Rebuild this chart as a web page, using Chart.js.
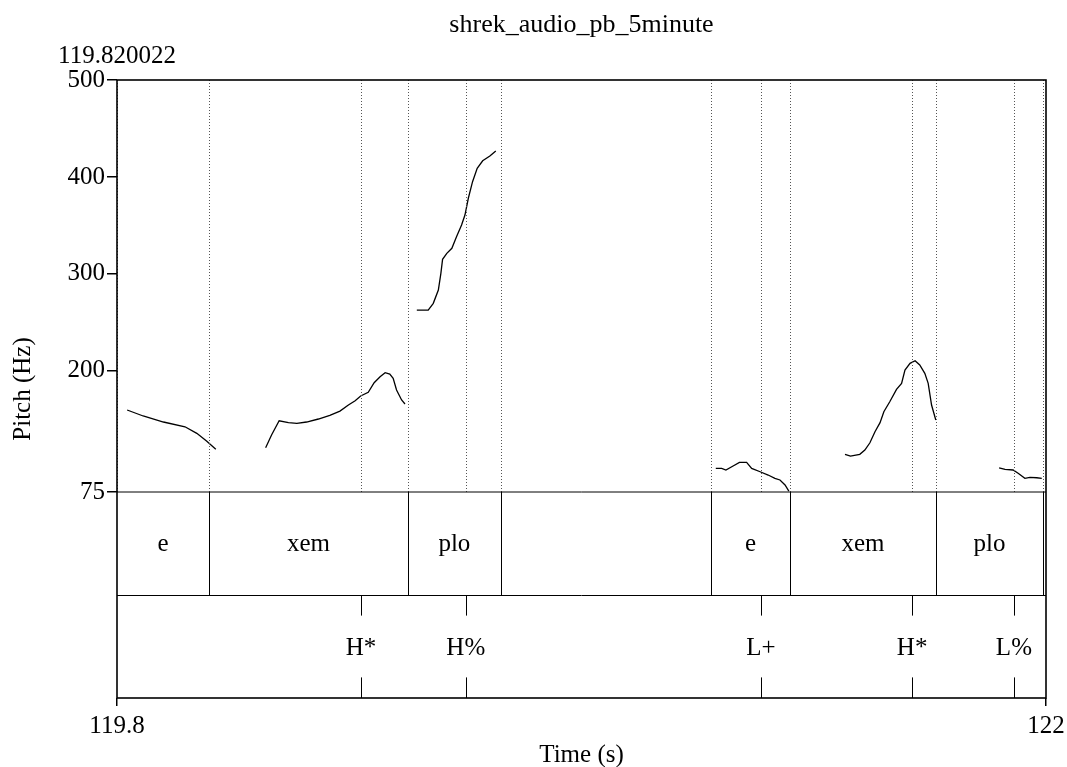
<!DOCTYPE html>
<html lang="en">
<head>
<meta charset="UTF-8">
<title>shrek_audio_pb_5minute</title>
<script src="https://cdn.jsdelivr.net/npm/chart.js"></script>
<style>
    html, body { margin: 0; padding: 0; background: #fff; }
</style>
</head>
<body>
<canvas id="pitchChart" width="1067" height="767"></canvas>
<script>
    // pitch contour pieces: time (s) and pitch (Hz)
    var seg1Time = [119.824, 119.862, 119.910, 119.961, 119.989, 120.012, 120.034];
    var seg1Hz   = [159.6, 153.4, 147.2, 142.3, 135.5, 127.6, 119.0];

    var seg2Time = [120.152, 120.166, 120.184, 120.206, 120.226, 120.249, 120.277, 120.304, 120.328, 120.348, 120.364,
                    120.377, 120.395, 120.409, 120.423, 120.435, 120.446, 120.454, 120.462, 120.474, 120.482];
    var seg2Hz   = [120.7, 133.8, 148.5, 146.5, 145.8, 147.2, 150.3, 154.1, 158.5, 164.7, 169.2,
                    174.0, 177.8, 187.7, 193.9, 198.1, 196.7, 192.3, 180.2, 169.9, 165.8];

    var seg3Time = [120.510, 120.522, 120.537, 120.549, 120.561, 120.567, 120.571, 120.581, 120.593, 120.604, 120.616,
                    120.624, 120.632, 120.642, 120.653, 120.666, 120.683, 120.697];
    var seg3Hz   = [262.7, 262.7, 262.7, 269.6, 283.4, 300.6, 315.0, 321.2, 326.4, 338.3, 350.4,
                    360.7, 378.0, 395.1, 408.9, 416.7, 421.6, 426.8];

    var seg4Time = [121.218, 121.232, 121.242, 121.259, 121.274, 121.291, 121.303, 121.323, 121.342, 121.358, 121.370,
                    121.382, 121.391];
    var seg4Hz   = [99.4, 99.4, 97.7, 101.8, 105.6, 105.6, 99.4, 95.9, 92.5, 89.1, 87.4, 82.2, 76.0];

    var seg5Time = [121.524, 121.537, 121.559, 121.571, 121.583, 121.595, 121.607, 121.616, 121.630, 121.646, 121.658,
                    121.666, 121.678, 121.690, 121.701, 121.713, 121.721, 121.729, 121.739];
    var seg5Hz   = [113.9, 112.1, 113.9, 118.3, 125.8, 137.2, 146.5, 157.8, 168.1, 180.9, 187.1,
                    200.8, 207.7, 210.4, 206.0, 197.4, 187.1, 164.7, 149.3];

    var seg6Time = [121.889, 121.903, 121.922, 121.934, 121.950, 121.962, 121.978, 121.990];
    var seg6Hz   = [100.0, 98.4, 97.7, 94.3, 89.1, 90.1, 89.7, 89.1];

    var segments = [[seg1Time, seg1Hz], [seg2Time, seg2Hz], [seg3Time, seg3Hz],
                    [seg4Time, seg4Hz], [seg5Time, seg5Hz], [seg6Time, seg6Hz]];

    // axes
    var timeStart = 119.8;
    var timeEnd = 122;
    var pitchFloor = 75;
    var pitchCeil = 500;
    var pitchTicks = [75, 200, 300, 400, 500];
    var timeTicks = [119.8, 122];
    var chartTitle = 'shrek_audio_pb_5minute';
    var startLabel = '119.820022';

    // TextGrid tier 1 (intervals) and tier 2 (points)
    var tier1Start = [119.8, 120.018, 120.489, 120.709, 121.207, 121.394, 121.739, 121.993];
    var tier1End   = [120.018, 120.489, 120.709, 121.207, 121.394, 121.739, 121.993, 122];
    var tier1Text  = ['e', 'xem', 'plo', '', 'e', 'xem', 'plo', ''];
    var tier2Time  = [120.378, 120.626, 121.325, 121.683, 121.924];
    var tier2Text  = ['H*', 'H%', 'L+', 'H*', 'L%'];

    Chart.defaults.font.family = '"Liberation Serif", "Times New Roman", serif';
    Chart.defaults.color = '#000';

    var datasets = segments.map(function (s) {
        return {
            data: s[0].map(function (t, i) { return { x: t, y: s[1][i] }; }),
            showLine: true,
            borderColor: '#000',
            borderWidth: 1.3,
            pointRadius: 0,
            tension: 0
        };
    });

    var tierPlugin = {
        id: 'tiers',
        afterDatasetsDraw: function (chart) {
            var ctx = chart.ctx, a = chart.chartArea;
            var xs = chart.scales.x, ys = chart.scales.y;
            var pb = ys.getPixelForValue(pitchFloor);
            var mid = (pb + a.bottom) / 2;
            var tick = (a.bottom - mid) * 0.2;
            function px(t) { return Math.round(xs.getPixelForValue(t)) + 0.5; }
            function seg(x1, y1, x2, y2) { ctx.beginPath(); ctx.moveTo(x1, y1); ctx.lineTo(x2, y2); ctx.stroke(); }

            ctx.save();
            // dotted boundary lines over the pitch area
            ctx.strokeStyle = '#555';
            ctx.lineWidth = 1;
            ctx.setLineDash([1, 2]);
            [timeStart].concat(tier1End.slice(0, -1), tier2Time).forEach(function (t) {
                seg(px(t), a.top, px(t), pb);
            });
            ctx.setLineDash([]);

            // tier separators
            ctx.strokeStyle = '#000';
            ctx.lineWidth = 1;
            seg(a.left, pb, a.right, pb);
            seg(a.left, Math.round(mid) + 0.5, a.right, Math.round(mid) + 0.5);

            // tier 1 boundaries
            tier1End.slice(0, -1).forEach(function (t) { seg(px(t), pb, px(t), mid); });
            // tier 2 point ticks
            tier2Time.forEach(function (t) {
                seg(px(t), mid, px(t), mid + tick);
                seg(px(t), a.bottom - tick, px(t), a.bottom);
            });

            // labels
            ctx.fillStyle = '#000';
            ctx.font = '25px "Liberation Serif", serif';
            ctx.textAlign = 'center';
            ctx.textBaseline = 'middle';
            tier1Text.forEach(function (s, i) {
                if (!s) return;
                ctx.fillText(s, (xs.getPixelForValue(tier1Start[i]) + xs.getPixelForValue(tier1End[i])) / 2, (pb + mid) / 2 + 1);
            });
            tier2Text.forEach(function (s, i) {
                ctx.fillText(s, xs.getPixelForValue(tier2Time[i]), (mid + a.bottom) / 2 + 2);
            });
            ctx.textBaseline = 'alphabetic';
            ctx.fillText(startLabel, a.left, a.top - 17);
            ctx.font = '26px "Liberation Serif", serif';
            ctx.fillText(chartTitle, (a.left + a.right) / 2, a.top - 48);

            // frame
            ctx.lineWidth = 1.6;
            ctx.strokeRect(a.left, a.top, a.right - a.left, a.bottom - a.top);
            ctx.restore();
        }
    };

    new Chart(document.getElementById('pitchChart'), {
        type: 'scatter',
        data: { datasets: datasets },
        plugins: [tierPlugin],
        options: {
            responsive: false,
            animation: false,
            layout: { padding: { top: 80, right: 21, left: 0, bottom: 0 } },
            plugins: {
                legend: { display: false },
                tooltip: { enabled: false },
                title: { display: false }
            },
            scales: {
                x: {
                    type: 'linear',
                    min: timeStart,
                    max: timeEnd,
                    afterBuildTicks: function (s) { s.ticks = timeTicks.map(function (v) { return { value: v }; }); },
                    afterFit: function (s) { s.height = 69; s.paddingLeft = 0; s.paddingRight = 0; },
                    ticks: {
                        autoSkip: false,
                        maxRotation: 0,
                        padding: 5,
                        font: { size: 25 },
                        callback: function (v) { return String(Math.round(v * 10) / 10); }
                    },
                    grid: { display: true, drawOnChartArea: false, drawTicks: true, tickLength: 8, color: '#000', lineWidth: 1.5 },
                    border: { display: false },
                    title: { display: true, text: 'Time (s)', font: { size: 25, lineHeight: 1 }, padding: { top: 0, bottom: -1 } }
                },
                y: {
                    type: 'linear',
                    min: -137.5,
                    max: pitchCeil,
                    afterBuildTicks: function (s) { s.ticks = pitchTicks.map(function (v) { return { value: v }; }); },
                    afterFit: function (s) { s.width = 117; },
                    ticks: { autoSkip: false, padding: 2, font: { size: 25 } },
                    grid: { display: true, drawOnChartArea: false, drawTicks: true, tickLength: 10, color: '#000', lineWidth: 1.5 },
                    border: { display: false },
                    title: { display: true, text: 'Pitch (Hz)', font: { size: 25 }, padding: { top: 8, bottom: 0 } }
                }
            }
        }
    });
</script>
</body>
</html>
